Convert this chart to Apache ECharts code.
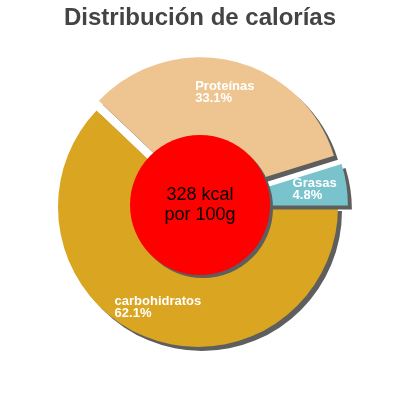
<!DOCTYPE html>
<html>
<head>
<meta charset="utf-8">
<script src="https://cdn.jsdelivr.net/npm/echarts@6/dist/echarts.min.js"></script>
<style>
  html, body { margin: 0; padding: 0; background: #fff; }
  #chart { width: 400px; height: 400px; }
</style>
</head>
<body>
<div id="chart"></div>
<script>
// calorie split
const categories = ["carbohidratos", "Proteínas", "Grasas"];
const percents = [62.1, 33.1, 4.8];
const colors = ["#DAA520", "#EEC591", "#79C3CC"];
const exploded = [false, true, true];
const centerText = "328 kcal\npor 100g";

const chart = echarts.init(document.getElementById("chart"), null, {renderer: "canvas"});

const pieData = categories.map((name, i) => ({
    name: name,
    value: percents[i],
    selected: exploded[i],
    itemStyle: {color: colors[i]}
}));

const labelData = categories.map((name, i) => ({
    name: name,
    value: percents[i],
    selected: exploded[i]
}));

const center = [198, 207];

chart.setOption({
    animation: false,
    title: {
        text: "Distribución de calorías",
        left: "center",
        top: 1,
        textStyle: {
            fontFamily: "Liberation Sans",
            fontSize: 24,
            fontWeight: "bold",
            color: "#444"
        }
    },
    series: [
        {
            type: "pie",
            center: center,
            radius: [0, 140],
            startAngle: 0,
            clockwise: true,
            selectedMode: "multiple",
            selectedOffset: 10,
            silent: true,
            label: {show: false},
            labelLine: {show: false},
            itemStyle: {
                shadowColor: "#5e5e5e",
                shadowBlur: 0,
                shadowOffsetX: 4,
                shadowOffsetY: 4
            },
            data: pieData
        },
        {
            // carries the slice labels at mid radius
            type: "pie",
            center: center,
            radius: [70, 140],
            startAngle: 0,
            clockwise: true,
            selectedMode: "multiple",
            selectedOffset: 10,
            silent: true,
            z: 5,
            itemStyle: {color: "rgba(0,0,0,0)"},
            label: {
                show: true,
                position: "inside",
                formatter: p => "{a|" + p.name + "}\n{a|" + p.value.toFixed(1) + "%}",
                rich: {
                    a: {
                        align: "left",
                        color: "#fff",
                        fontFamily: "Liberation Sans",
                        fontWeight: "bold",
                        fontSize: 13,
                        lineHeight: 12
                    }
                }
            },
            labelLine: {show: false},
            data: labelData
        },
        {
            type: "pie",
            center: [200, 205],
            radius: [0, 70],
            silent: true,
            z: 4,
            itemStyle: {
                color: "#ff0000",
                shadowColor: "#5e5e5e",
                shadowBlur: 0,
                shadowOffsetX: 3,
                shadowOffsetY: 3
            },
            label: {
                show: true,
                position: "center",
                formatter: centerText,
                color: "#000",
                fontFamily: "Liberation Sans",
                fontSize: 18,
                lineHeight: 20
            },
            labelLine: {show: false},
            data: [{name: "kcal", value: 1}]
        }
    ]
});
</script>
</body>
</html>
